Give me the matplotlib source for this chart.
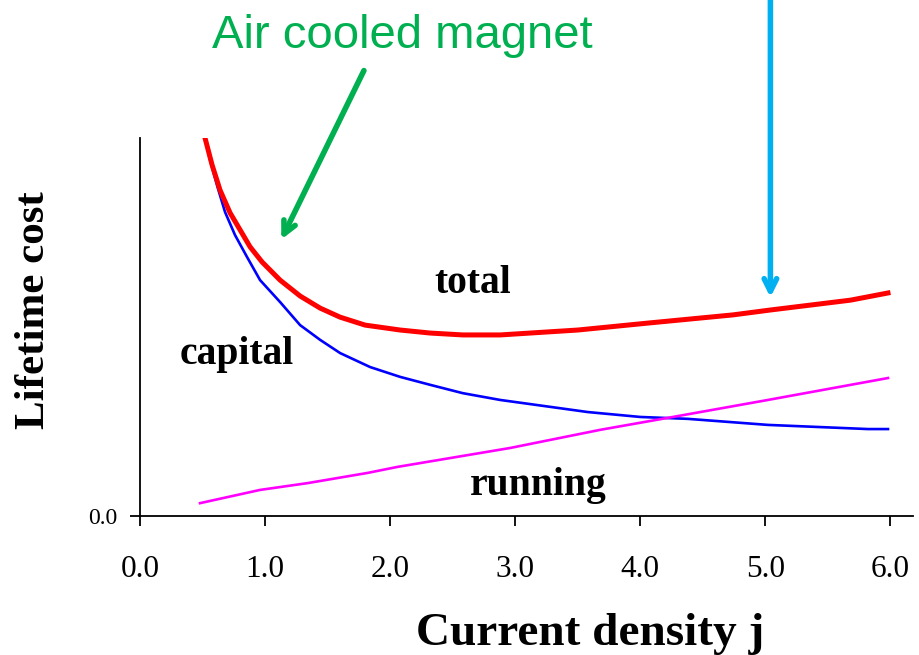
import matplotlib.pyplot as plt

# current density j and lifetime cost (arbitrary units, axis top = 10)
j_total = [0.52, 0.576, 0.64, 0.72, 0.80, 0.88, 0.976, 1.12, 1.28, 1.44, 1.60, 1.80, 2.08, 2.32,
           2.58, 2.88, 3.50, 4.08, 4.74, 5.04, 5.68, 5.98]
cost_total = [10.0, 9.29, 8.62, 8.02, 7.57, 7.12, 6.72, 6.24, 5.82, 5.50, 5.26, 5.05, 4.92, 4.84,
              4.79, 4.79, 4.92, 5.11, 5.32, 5.45, 5.71, 5.90]

j_capital = [0.52, 0.56, 0.62, 0.68, 0.76, 0.856, 0.96, 1.12, 1.28, 1.44, 1.60, 1.84, 2.08, 2.32,
             2.58, 2.88, 3.58, 4.00, 4.38, 5.02, 5.82, 5.98]
cost_capital = [10.0, 9.42, 8.70, 8.04, 7.43, 6.85, 6.24, 5.66, 5.05, 4.66, 4.31, 3.94, 3.68, 3.47,
                3.25, 3.07, 2.75, 2.62, 2.57, 2.41, 2.30, 2.30]

j_running = [0.48, 0.96, 1.34, 1.82, 2.06, 2.96, 3.68, 4.26, 5.02, 5.98]
cost_running = [0.34, 0.69, 0.87, 1.14, 1.30, 1.80, 2.28, 2.62, 3.07, 3.65]

xticks = [0, 1, 2, 3, 4, 5, 6]
xtick_labels = ["0.0", "1.0", "2.0", "3.0", "4.0", "5.0", "6.0"]

serif = "Liberation Serif"

fig = plt.figure(figsize=(9.2, 6.55), dpi=100)
ax = fig.add_axes([140 / 920, 1 - 516 / 655, (913 - 140) / 920, (516 - 138) / 655])

ax.plot(j_capital, cost_capital, color="#0000FF", lw=1.9)
ax.plot(j_running, cost_running, color="#FF00FF", lw=1.9)
ax.plot(j_total, cost_total, color="#FF0000", lw=3.6)

ax.set_xlim(0, 6.18)
ax.set_ylim(0, 10)
for s in ["top", "right"]:
    ax.spines[s].set_visible(False)
for s in ["left", "bottom"]:
    ax.spines[s].set_linewidth(1.3)

ax.set_xticks(xticks)
ax.set_xticklabels(xtick_labels, fontfamily=serif)
ax.set_yticks([0])
ax.set_yticklabels(["0.0"], fontfamily=serif)
ax.tick_params(axis="x", direction="out", length=7, width=1.3, pad=21, labelsize=22.5)
ax.tick_params(axis="y", direction="out", length=7, width=1.3, pad=9, labelsize=17)

# curve names
ax.text(2.66, 5.90, "total", fontfamily=serif, fontweight="bold", fontsize=28.5, ha="center", va="baseline")
ax.text(0.77, 4.02, "capital", fontfamily=serif, fontweight="bold", fontsize=28.5, ha="center", va="baseline")
ax.text(3.18, 0.56, "running", fontfamily=serif, fontweight="bold", fontsize=28.5, ha="center", va="baseline")

fig.text(34 / 920, 1 - 310 / 655, "Lifetime cost", fontfamily=serif, fontweight="bold", fontsize=31,
         rotation=90, ha="center", va="center")
fig.text(590 / 920, 1 - 645 / 655, "Current density j", fontfamily=serif, fontweight="bold", fontsize=34,
         ha="center", va="baseline")

# annotations
ax.text(2.10, 12.38, "Air cooled magnet", fontfamily="Liberation Sans", fontsize=34, color="#00B050",
        ha="center", va="baseline")
ax.annotate("", xy=(1.12, 7.25), xytext=(1.80, 11.85), annotation_clip=False,
            arrowprops=dict(arrowstyle="->,head_length=0.9,head_width=0.45", color="#00B050", lw=4))
ax.annotate("", xy=(5.04, 5.71), xytext=(5.04, 13.8), annotation_clip=False,
            arrowprops=dict(arrowstyle="->,head_length=0.9,head_width=0.45", color="#00B0F0", lw=4))

fig.savefig("out.png", dpi=100)
